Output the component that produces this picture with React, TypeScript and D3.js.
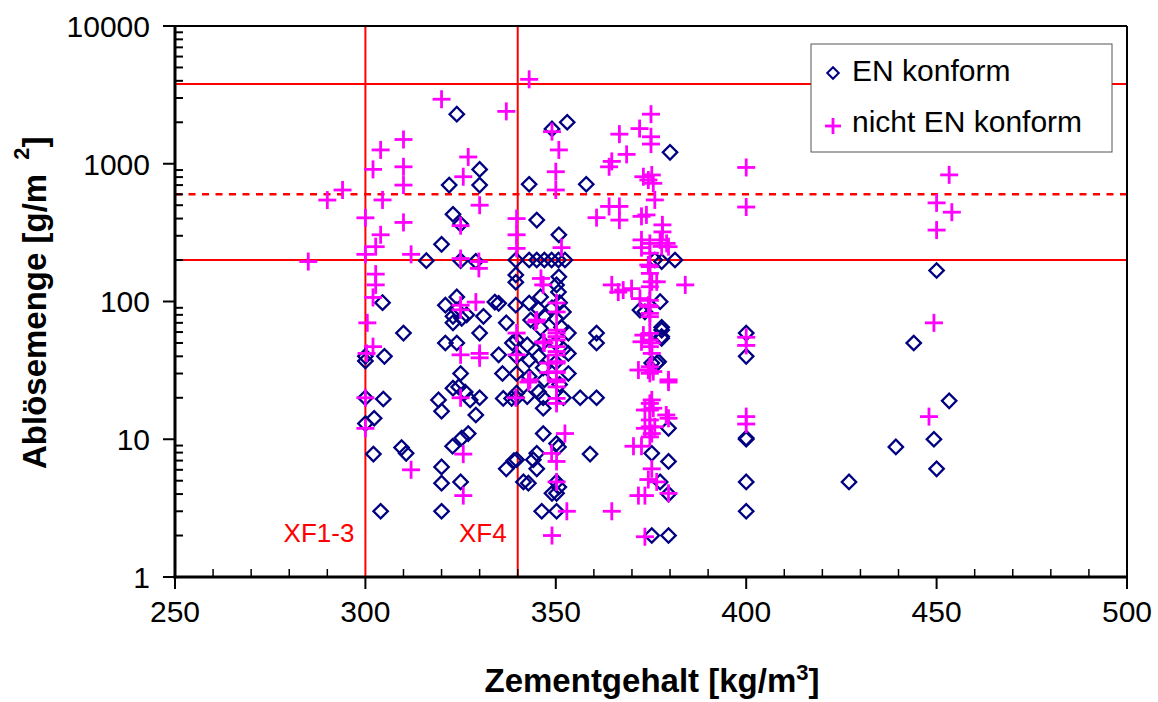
import * as d3 from "d3";

// Zementgehalt [kg/m3] vs. Ablösemenge [g/m2]
const enKonform: [number, number][] = [
  [300, 40], [300, 37], [300, 20], [300, 13], [302.3, 14.2], [302.1, 7.8], [304, 3], [304.5, 98], [305, 40], [304.7, 19.6],
  [309.5, 8.7], [310.7, 7.9], [310, 59],
  [316, 198], [320, 260], [322, 700], [323, 430], [324, 2290], [325, 365], [330, 910], [330, 700], [325, 198], [329, 196],
  [319.2, 19.3], [320, 16], [320, 6.3], [320, 4.8], [320, 3], [321, 50], [321, 94], [324, 108], [324, 87], [323, 78],
  [325.3, 75.5], [326.6, 80], [331, 78], [334, 99], [335, 97], [337, 70], [323, 70],
  [324, 50], [330, 59], [335, 41], [325, 30], [336, 30], [323, 23.5], [324.5, 24], [326.2, 22], [330, 20], [327.5, 19.3],
  [329, 15], [327, 11], [325.3, 10.2], [322.9, 8.9], [325, 4.9], [337, 6.1], [339, 7], [336.2, 19.8], [338.4, 19.8], [338.6, 50],
  [339.5, 200], [339.5, 156], [339.5, 138], [339.5, 94], [339.7, 52.6], [339.7, 40], [339.7, 30], [339.7, 21.6], [339.7, 20], [339.7, 7.1],
  [343, 710], [343, 200], [343, 97.5], [343.4, 73.4], [342.5, 48.4], [343, 37.6], [343, 28.5], [342.5, 20.4], [341.5, 4.9], [342.8, 4.8],
  [345, 390], [345, 200], [347, 200], [346, 108], [345.5, 88], [347, 78], [346, 64], [346.5, 50], [345.5, 40], [346.7, 33],
  [347, 27], [345.5, 22], [346.7, 20], [346.7, 16.8], [346.7, 11], [345, 7.9], [344.1, 7.1], [345, 6.1], [346.3, 3],
  [349, 1790], [353, 2000], [350.8, 305], [348.9, 200], [350.7, 200], [352.4, 200], [350.8, 151], [350.2, 132], [350.7, 117],
  [351, 98], [349, 90], [352, 84], [350, 75], [351.5, 65], [353.3, 59], [350, 50], [352, 45], [353.3, 42], [350, 36],
  [353.3, 30], [351, 25], [352, 20], [350.2, 9.3], [350.7, 8.8], [350.2, 4.9], [350.8, 4.5], [349, 4.05], [350.2, 4.05], [350.2, 3],
  [356.4, 20], [360.7, 20], [358, 710], [360.7, 59], [360.7, 50], [359, 7.8],
  [380, 1210], [381.3, 200], [376, 200], [377.8, 195], [377.4, 99.7], [372.1, 86.6], [373.4, 84.2], [377.8, 65], [377.8, 62],
  [377.8, 55.6], [377.8, 54], [375.2, 35.7], [377, 36.6], [376.5, 35.6], [379.6, 12], [375.2, 7.9], [379.6, 6.9], [377.4, 4.9],
  [379.6, 4], [375.2, 2], [379.6, 2],
  [400, 59], [400, 40], [400, 10], [400, 10.2], [400, 4.9], [400, 3],
  [427, 4.9], [439.3, 8.8], [444, 50], [450, 168], [449.3, 10], [450, 6.1], [453.3, 19],
];

const nichtEnKonform: [number, number][] = [
  [285, 195], [290, 545], [294, 645], [300, 405], [300, 220], [300.5, 70], [300.3, 42], [300, 20], [300, 12],
  [302, 910], [302.7, 250], [302.7, 158], [302.7, 132], [302, 107], [302, 47], [304, 1260], [304.5, 546], [304, 305],
  [310, 1500], [310, 950], [310, 700], [310, 375], [312, 220], [312, 6],
  [320, 2940], [325.7, 805], [327, 1120], [330, 500], [325, 355], [325, 205], [329.8, 195], [329.8, 174], [325, 94], [329, 99],
  [325, 87], [325, 41], [330, 42], [330, 39], [325, 20], [325.7, 7.8], [325.7, 3.9],
  [337, 2400], [339.7, 400], [339.7, 305], [339.7, 243], [339.7, 59], [339.7, 41], [339.5, 20],
  [343, 4100], [344.7, 71], [345, 73.4], [342.8, 26], [343.2, 27], [347, 50], [346.7, 51], [346.1, 147], [346.7, 132],
  [349, 1710], [350.8, 1260], [350, 875], [350, 645], [351.5, 246], [350.2, 97.5], [350.2, 84], [350.2, 62], [350.2, 59],
  [350.2, 55.6], [350.2, 52.6], [350.2, 47], [350.2, 43.3], [350.2, 40.9], [350.2, 36.6], [350.2, 35.7], [350.2, 30.9],
  [350.2, 30.5], [350.2, 27], [350.2, 26.1], [350.2, 24], [350.2, 19.8], [350.2, 18.2], [348, 35.7], [348, 30.5],
  [352.4, 11], [348.9, 7.9], [350.2, 6.9], [350.2, 4.9], [352.9, 3], [349, 2],
  [360.7, 406], [364.7, 1040], [364, 950], [364, 490], [366.7, 490], [366.7, 390], [366.7, 1640], [368.6, 1170],
  [364.7, 132], [366.4, 117], [369.9, 124], [367.7, 121], [364.7, 3],
  [372, 1800], [375, 2290], [375, 1570], [375, 1390], [373, 805], [375.2, 829], [374.3, 762], [375.6, 721], [376, 546],
  [372.5, 415], [373.8, 425], [378, 360], [378, 320], [372.5, 280], [372.5, 246], [377.4, 280], [379.6, 250], [374.3, 184],
  [375.2, 139], [376.5, 139], [372.1, 105], [374.3, 94], [374.7, 82], [384, 132],
  [374.7, 264], [374.7, 224], [374.7, 179], [374.7, 160], [374.7, 128], [374.7, 102], [374.7, 91.6], [374.7, 77.6],
  [374.7, 58.7], [374.7, 52.5], [374.7, 47], [374.7, 33.6], [374.7, 30.1], [374.7, 18.2], [374.7, 16.3], [374.7, 13.8],
  [374.7, 12.3], [374.7, 10.4], [379.1, 264], [377.8, 251],
  [373, 57], [372.5, 51], [375.2, 50], [375.2, 42], [371.7, 31.8], [374.3, 31.8], [375.6, 31], [379.6, 26], [375.2, 19.3],
  [373.4, 16.3], [375.6, 16.8], [379.6, 14.2], [373.4, 12], [376, 12.3], [375.2, 11], [370.4, 8.9], [372.5, 8.9], [375.2, 6.1],
  [374.3, 5.1], [376.5, 4.9], [371.7, 3.9], [373.4, 3.9], [379.6, 4.05], [373.4, 1.96], [379, 15], [379.6, 27],
  [400, 940], [400, 485], [400, 55], [400, 48], [400, 14.6], [400, 12.9],
  [453.3, 830], [450, 520], [454, 445], [450, 330], [449.3, 70], [448, 14.6],
];

const xTickValues = [250, 300, 350, 400, 450, 500];
const yTickValues = [1, 10, 100, 1000, 10000];
const exposureLimits = [{ x: 300, label: "XF1-3" }, { x: 340, label: "XF4" }];
const solidLimits = [200, 3800];
const dashedLimit = 600;
const legendLabels = ["EN konform", "nicht EN konform"];

const W = 1158, H = 702;
const FONT = "'Liberation Sans', Arial, sans-serif";
const NAVY = "#000080";
const MAGENTA = "#ff00ff";
const RED = "#ff0000";

const x = d3.scaleLinear().domain([250, 500]).range([175, 1127]);
const y = d3.scaleLog().domain([1, 10000]).range([577, 26]);

const diamondPath = d3.symbol(d3.symbolSquare, 104)() as string;
const smallDiamond = d3.symbol(d3.symbolSquare, 66)() as string;

function Cross({ cx, cy, r = 9 }: { cx: number; cy: number; r?: number }) {
  return (
    <g stroke={MAGENTA} strokeWidth={2.8}>
      <line x1={cx - r} x2={cx + r} y1={cy} y2={cy} />
      <line x1={cx} x2={cx} y1={cy - r} y2={cy + r} />
    </g>
  );
}

export default function App() {
  const [x0, x1] = x.range();
  const [yb, yt] = y.range();
  const xMinor = d3.range(250, 501, 10).filter(v => v % 50 !== 0);
  const yMinor = yTickValues.slice(0, -1).flatMap(d => d3.range(2, 10).map(k => k * d));

  return (
    <svg width={W} height={H} style={{ position: "absolute", left: 0, top: 0, background: "#fff" }} fontFamily={FONT}>
      {/* limit lines */}
      {exposureLimits.map(l => (
        <line key={l.label} x1={x(l.x)} x2={x(l.x)} y1={yt} y2={yb} stroke={RED} strokeWidth={2} />
      ))}
      {solidLimits.map(v => (
        <line key={v} x1={x0} x2={x1} y1={y(v)} y2={y(v)} stroke={RED} strokeWidth={2} />
      ))}
      <line x1={x0} x2={x1} y1={y(dashedLimit)} y2={y(dashedLimit)} stroke={RED} strokeWidth={2.6} strokeDasharray="7,6.5" />
      {exposureLimits.map(l => (
        <text key={l.label} x={x(l.x) - 11} y={542} textAnchor="end" fontSize={26} fill={RED}>{l.label}</text>
      ))}

      {/* data */}
      {enKonform.map(([vx, vy], i) => (
        <path key={"d" + i} d={diamondPath} transform={`translate(${x(vx)},${y(vy)}) rotate(45)`}
          fill="none" stroke={NAVY} strokeWidth={2.3} />
      ))}
      {nichtEnKonform.map(([vx, vy], i) => (
        <Cross key={"c" + i} cx={x(vx)} cy={y(vy)} />
      ))}

      {/* frame */}
      <line x1={x1} x2={x1} y1={yt} y2={yb} stroke="#000" strokeWidth={2} />
      <line x1={x0} x2={x1} y1={yt} y2={yt} stroke="#000" strokeWidth={2} />
      <line x1={x0} x2={x0} y1={yt - 1} y2={yb + 1.5} stroke="#000" strokeWidth={3} />
      <line x1={x0 - 1.5} x2={x1} y1={yb} y2={yb} stroke="#000" strokeWidth={3} />

      {/* y axis */}
      {yTickValues.map(v => (
        <g key={v}>
          <line x1={x0 - 12} x2={x0} y1={y(v)} y2={y(v)} stroke="#000" strokeWidth={2} />
          <text x={150} y={y(v)} dy="0.36em" textAnchor="end" fontSize={30}>{v}</text>
        </g>
      ))}
      {yMinor.map(v => (
        <line key={v} x1={x0} x2={x0 + 8} y1={y(v)} y2={y(v)} stroke="#000" strokeWidth={2} />
      ))}

      {/* x axis */}
      {xTickValues.map(v => (
        <g key={v}>
          <line x1={x(v)} x2={x(v)} y1={yb} y2={yb + 12} stroke="#000" strokeWidth={2} />
          <text x={x(v)} y={622} textAnchor="middle" fontSize={30}>{v}</text>
        </g>
      ))}
      {xMinor.map(v => (
        <line key={v} x1={x(v)} x2={x(v)} y1={yb - 8} y2={yb} stroke="#000" strokeWidth={1.5} />
      ))}

      {/* titles */}
      <text x={652} y={692} textAnchor="middle" fontSize={33} fontWeight="bold">
        Zementgehalt [kg/m<tspan fontSize={22} dy={-12}>3</tspan><tspan dy={12}>]</tspan>
      </text>
      <text transform="translate(46,469) rotate(-90)" fontSize={33} fontWeight="bold">
        Ablösemenge [g/m<tspan dx={14} fontSize={22} dy={-17}>2</tspan><tspan dy={17}>]</tspan>
      </text>

      {/* legend */}
      <rect x={811} y={44} width={301} height={108} fill="#fff" stroke="#555" strokeWidth={1} />
      <path d={smallDiamond} transform="translate(833,73) rotate(45)" fill="none" stroke={NAVY} strokeWidth={2} />
      <text x={852} y={81} fontSize={30}>{legendLabels[0]}</text>
      <Cross cx={833} cy={126} r={8} />
      <text x={852} y={132} fontSize={30}>{legendLabels[1]}</text>
    </svg>
  );
}
